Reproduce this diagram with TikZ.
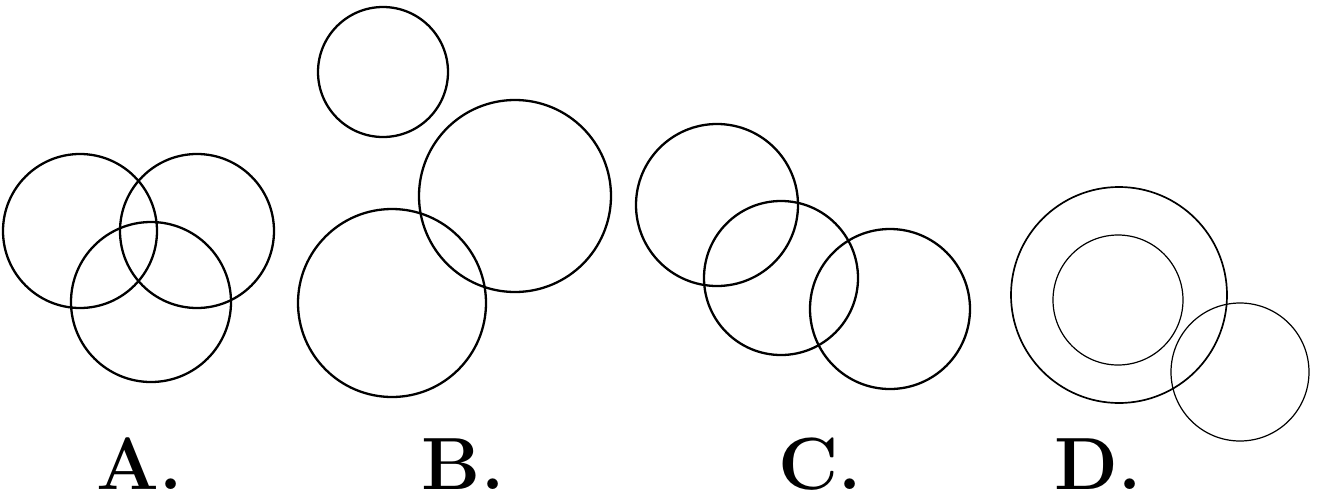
\documentclass[tikz,border=0pt]{standalone}
\begin{document}
\begin{tikzpicture}[x=1pt,y=-1pt,
   ring/.style={black,line width=2.3pt},
   thin ring/.style={black,line width=1.2pt},
   lbl/.style={anchor=base,inner sep=0pt,font=\fontsize{74}{74}\selectfont\bfseries}]
  \useasboundingbox (0,0) rectangle (1318,496);
  % A: three overlapping
  \draw[ring] (80,231) circle (77);
  \draw[ring] (197,231) circle (77);
  \draw[ring] (151,302) circle (80);
  % B: one apart, two overlapping
  \draw[ring] (383,72) circle (65);
  \draw[ring] (515,196) circle (96);
  \draw[ring] (392,303) circle (94);
  % C: chain of three
  \draw[ring] (717,205) circle (81);
  \draw[ring] (781,278) circle (77);
  \draw[ring] (890,309) circle (80);
  % D: nested plus one
  \draw[ring,line width=1.7pt] (1119,295) circle (108);
  \draw[thin ring] (1118,300) circle (65);
  \draw[thin ring] (1240,372) circle (69);
  % labels
  \node[lbl] (labA) at (140,489){A.};
  \node[lbl] (labB) at (463,489){B.};
  \node[lbl] (labC) at (820,489){C.};
  \node[lbl] (labD) at (1098,489){D.};
\end{tikzpicture}
\end{document}
